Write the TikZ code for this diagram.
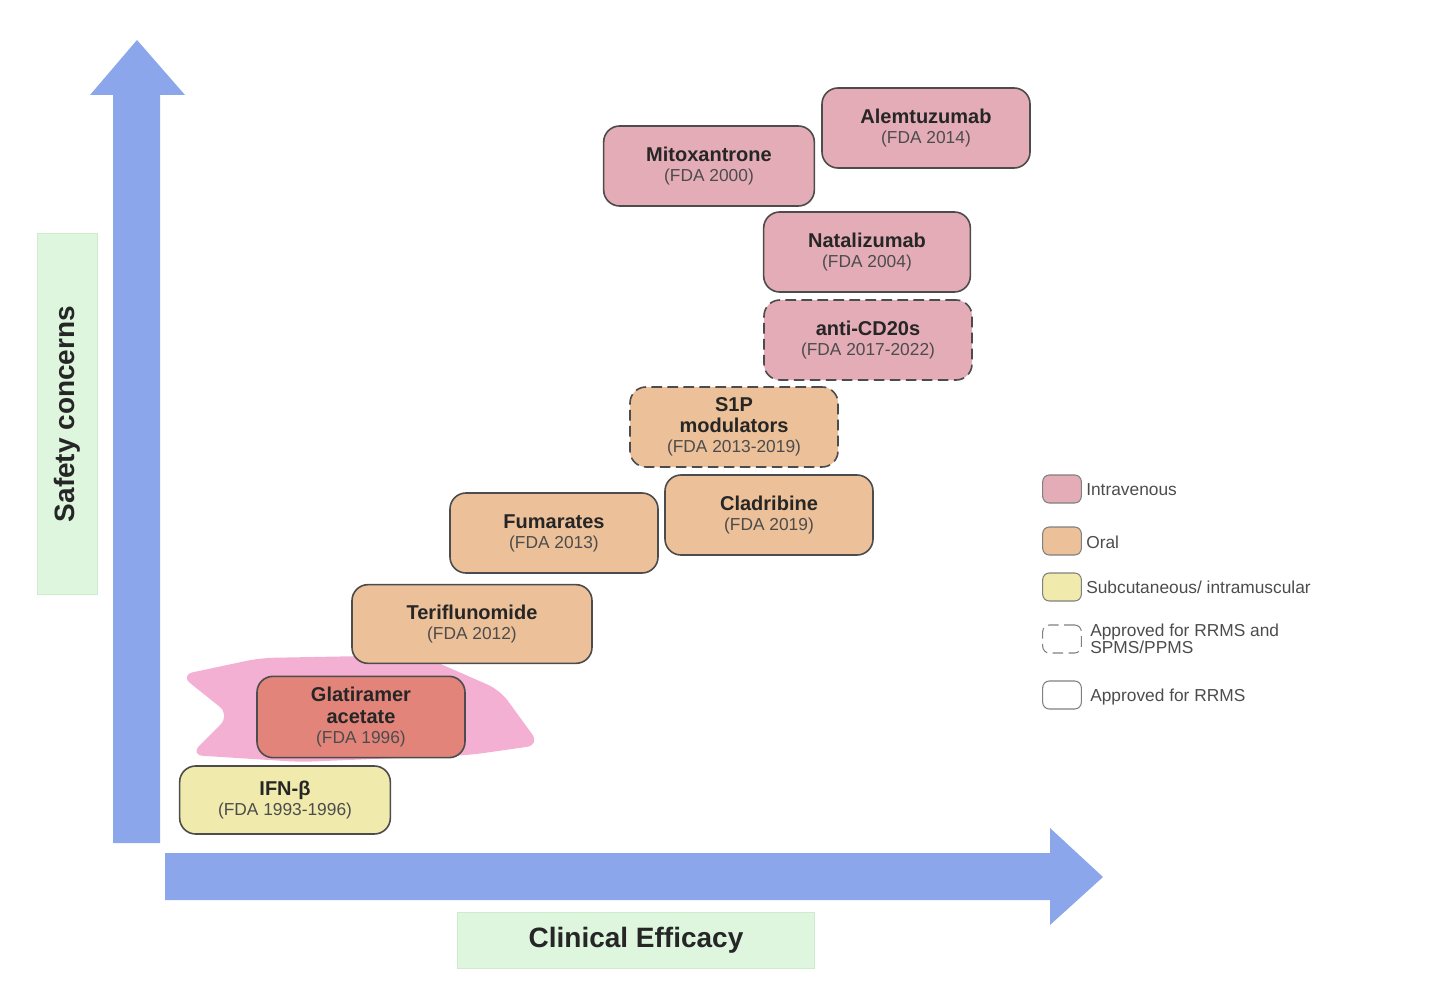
\documentclass[tikz,border=0pt]{standalone}
\usepackage{fontspec}
\setmainfont{Liberation Sans}
\definecolor{ax}{RGB}{140,166,236}
\definecolor{civ}{RGB}{228,172,182}
\definecolor{coral}{RGB}{236,192,152}
\definecolor{csc}{RGB}{240,234,172}
\definecolor{cglat}{RGB}{226,132,122}
\definecolor{csmear}{RGB}{240,150,195}
\definecolor{clab}{RGB}{222,245,222}
\definecolor{clabd}{RGB}{205,235,205}
\newcommand\subtx{\fontsize{13}{14}\selectfont\mdseries\color{black!70}}
\begin{document}
\begin{tikzpicture}[x=0.75pt,y=-0.75pt,
  box/.style={draw=black!70,line width=1.2pt,rounded corners=12pt,align=center,inner sep=0pt,font=\fontsize{15}{16}\selectfont\bfseries,text=black!85},
  iv/.style={box,fill=civ},
  oral/.style={box,fill=coral},
  sc/.style={box,fill=csc},
  dsh/.style={dash pattern=on 8pt off 4pt},
  leg/.style={draw=black!50,line width=0.8pt,rounded corners=5pt,minimum width=29pt,minimum height=21pt,inner sep=0pt},
  legt/.style={anchor=west,font=\fontsize{13}{14}\selectfont,text=black!70,align=left,inner sep=0pt},
  lab/.style={fill=clab,draw=clabd,font=\fontsize{21}{22}\selectfont\bfseries,text=black!85,inner sep=0pt}]
\useasboundingbox (0,0) rectangle (1440,999);
% axes
\fill[ax] (113,843) -- (113,95) -- (90,95) -- (137,40) -- (185,95) -- (160,95) -- (160,843) -- cycle;
\fill[ax] (165,853) -- (1050,853) -- (1050,828) -- (1103,877) -- (1050,925) -- (1050,900) -- (165,900) -- cycle;
\node[lab,minimum width=45pt,minimum height=271pt] (sy) at (67,414) {};
\node[rotate=90,font=\fontsize{21}{22}\selectfont\bfseries,text=black!85] (syt) at (67,414) {Safety concerns};
\node[lab,minimum width=268pt,minimum height=42pt] (cx) at (636,940) {Clinical Efficacy};
% pink smear
\fill[csmear,opacity=0.75,rounded corners=10pt] (180,675) -- (260,658) -- (420,655) -- (500,690) -- (540,745) -- (470,755) -- (300,762) -- (190,755) -- (230,715) -- cycle;
% nodes
\node[iv,minimum width=156pt,minimum height=60pt] (alem) at (926,128) {Alemtuzumab\\[-1pt]{\subtx (FDA 2014)}};
\node[iv,minimum width=158pt,minimum height=60pt] (mito) at (709,166) {Mitoxantrone\\[-1pt]{\subtx (FDA 2000)}};
\node[iv,minimum width=155pt,minimum height=60pt] (nat) at (867,252) {Natalizumab\\[-1pt]{\subtx (FDA 2004)}};
\node[iv,dsh,minimum width=156pt,minimum height=60pt] (cd20) at (868,340) {anti-CD20s\\[-1pt]{\subtx (FDA 2017-2022)}};
\node[oral,dsh,minimum width=156pt,minimum height=60pt] (s1p) at (734,427) {S1P\\modulators\\[-1pt]{\subtx (FDA 2013-2019)}};
\node[oral,minimum width=156pt,minimum height=60pt] (clad) at (769,515) {Cladribine\\[-1pt]{\subtx (FDA 2019)}};
\node[oral,minimum width=156pt,minimum height=60pt] (fum) at (554,533) {Fumarates\\[-1pt]{\subtx (FDA 2013)}};
\node[oral,minimum width=180pt,minimum height=59pt] (teri) at (472,624) {Teriflunomide\\[-1pt]{\subtx (FDA 2012)}};
\node[box,fill=cglat,minimum width=156pt,minimum height=61pt] (glat) at (361,717) {Glatiramer\\acetate\\[-1pt]{\subtx (FDA 1996)}};
\node[sc,minimum width=158pt,minimum height=51pt] (ifn) at (285,800) {IFN-β\\[-1pt]{\subtx (FDA 1993-1996)}};
% legend
\node[leg,fill=civ] (l1) at (1062,489) {};
\node[legt] (t1) at (1086,490) {Intravenous};
\node[leg,fill=coral] (l2) at (1062,541) {};
\node[legt] (t2) at (1086,542) {Oral};
\node[leg,fill=csc] (l3) at (1062,587) {};
\node[legt] (t3) at (1086,587) {Subcutaneous/ intramuscular};
\node[leg,dsh,fill=white] (l4) at (1062,639) {};
\node[legt,font=\fontsize{13}{12}\selectfont] (t4) at (1090,639) {Approved for RRMS and\\SPMS/PPMS};
\node[leg,fill=white] (l5) at (1062,695) {};
\node[legt] (t5) at (1090,697) {Approved for RRMS};
\end{tikzpicture}
\end{document}
